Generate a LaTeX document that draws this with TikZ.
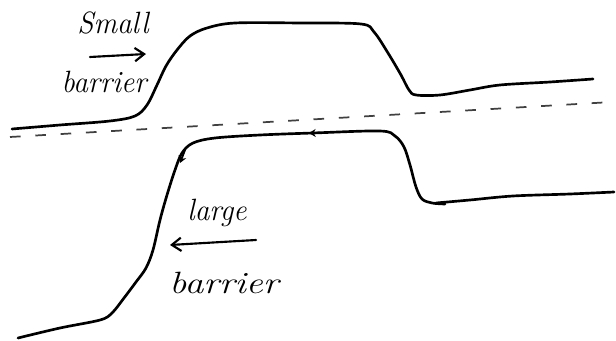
\documentclass[tikz,border=0pt]{standalone}
\usetikzlibrary{arrows.meta}
\begin{document}
\begin{tikzpicture}[x=0.75pt,y=-0.75pt,
  curve/.style={line width=2pt,line cap=round,line join=round},
  dashline/.style={line width=1.3pt,black!75,dash pattern=on 8pt off 11pt},
  lbl/.style={font=\itshape\fontsize{21}{22}\selectfont,inner sep=0pt,anchor=center},
  hand/.style={line width=1.6pt,line cap=round,-{Straight Barb[length=7pt,width=10pt]}},
  tick/.style={line width=1.4pt,-{Stealth[length=5pt,width=6pt]}}]
\useasboundingbox (0,0) rectangle (616,341);
% upper energy curve (small barrier)
\draw[curve] plot[smooth,tension=0.55] coordinates {(12,129) (60,125) (110,121) (135,116) (147,105) (157,85) (166,66) (177,50) (190,36) (207,28) (235,23) (300,23) (361,24) (374,32) (388,53) (401,75) (409,90) (416,95) (440,95) (470,90) (500,85) (550,82) (593,79)};
% dashed reference line
\coordinate (d1) at (10,137);
\coordinate (d2) at (612,102);
\draw[dashline] (d1) -- (d2);
% lower energy curve (large barrier)
\draw[curve] plot[smooth,tension=0.55] coordinates {(18,338) (60,328) (100,320) (112,313) (124,298) (136,282) (146,268) (153,250) (160,220) (167,195) (175,170) (182,153) (193,143) (215,138) (260,135) (313,133) (380,131) (395,136) (404,147) (410,165) (416,187) (422,199) (432,203) (445,204)};
\draw[curve] plot[smooth,tension=0.55] coordinates {(436,203) (470,200) (513,196) (570,194) (614,192)};
% small arrow marks on lower curve
\coordinate (ta) at (185,150);
\coordinate (tb) at (180,163);
\draw[tick] (ta) -- (tb);
\coordinate (tc) at (320,132.8);
\coordinate (td) at (309,133.2);
\draw[tick] (tc) -- (td);
% labels
\node[lbl] (small) at (113,23) {\scalebox{1.05}[1.1]{Small}};
\coordinate (sa1) at (90,57);
\coordinate (sa2) at (146,54);
\draw[hand] (sa1) -- (sa2);
\node[lbl] (bar1) at (104,82) {\scalebox{1.05}[1.1]{barrier}};
\node[lbl] (large) at (217,213) {\scalebox{1.05}[1.1]{large}};
\coordinate (la1) at (256,240);
\coordinate (la2) at (170,245);
\draw[hand] (la1) -- (la2);
\node[lbl] (bar2) at (224,283) {\scalebox{1.35}[1.1]{barrier}};
\end{tikzpicture}
\end{document}
